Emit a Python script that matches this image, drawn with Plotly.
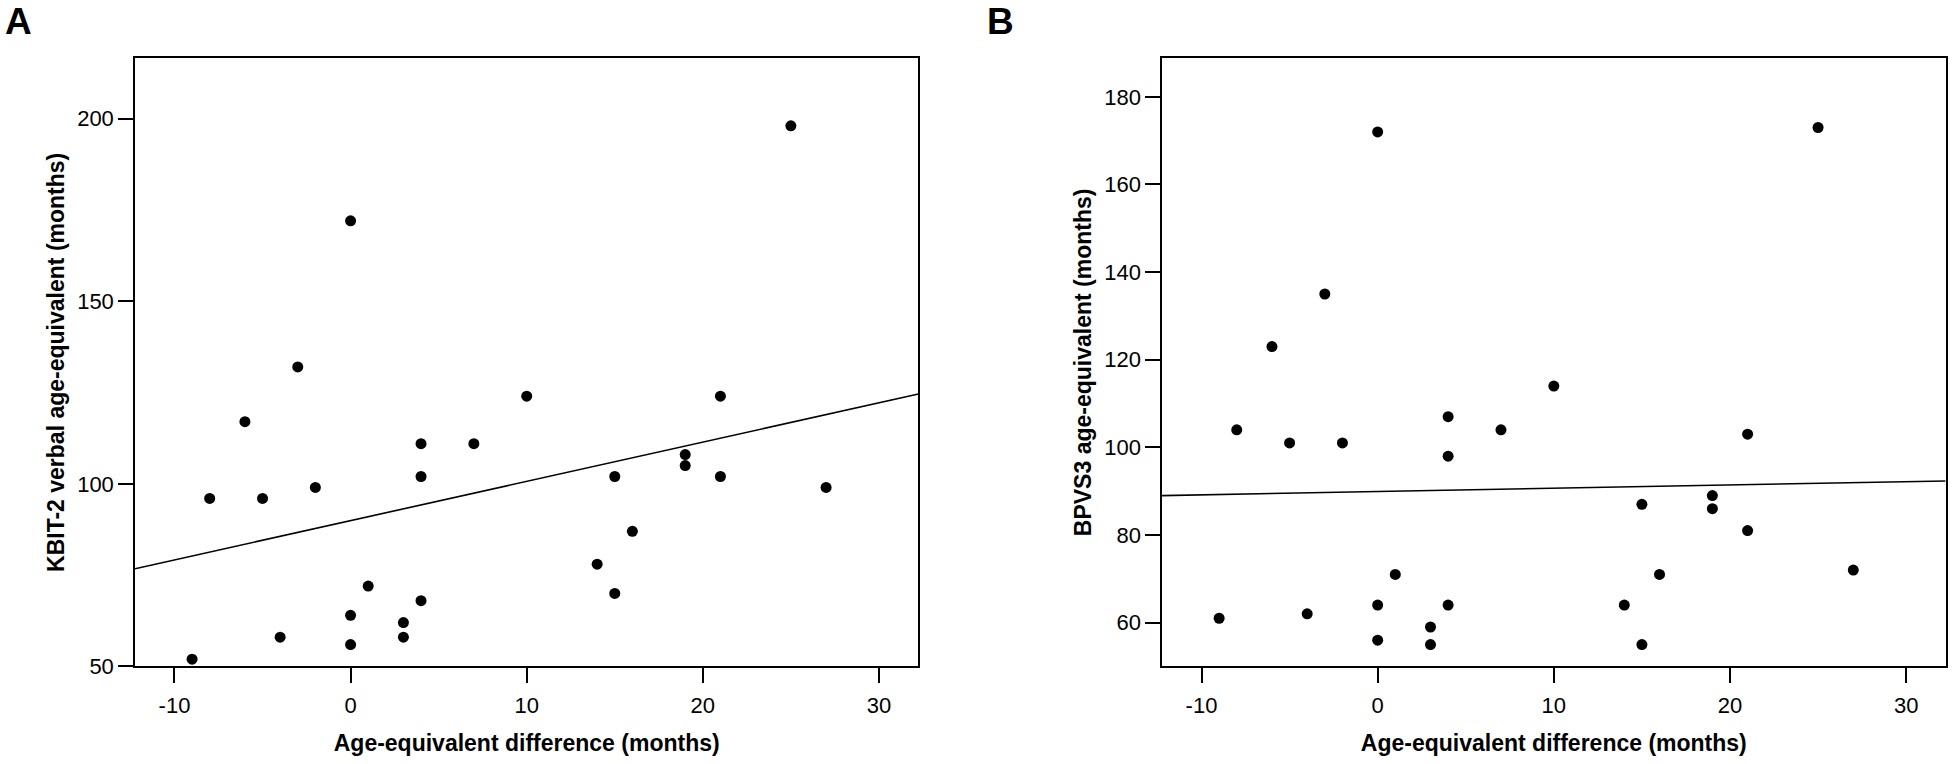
import plotly.graph_objects as go
import numpy as np

# age-equivalent difference (months), same participants in both panels
age_diff = [-9, -8, -6, -5, -4, -3, -2, 0, 0, 0, 1, 3, 3, 4, 4, 4, 7, 10,
            14, 15, 15, 16, 19, 19, 21, 21, 25, 27]

# panel A: KBIT-2 verbal age-equivalent (months)
kbit_verbal = [52, 96, 117, 96, 58, 132, 99, 64, 56, 172, 72, 62, 58, 68, 102, 111, 111, 124,
               78, 70, 102, 87, 108, 105, 124, 102, 198, 99]

# panel B: BPVS3 age-equivalent (months)
bpvs3 = [61, 104, 123, 101, 62, 135, 101, 64, 56, 172, 71, 59, 55, 64, 98, 107, 104, 114,
         64, 87, 55, 71, 89, 86, 103, 81, 173, 72]

x_ticks = [-10, 0, 10, 20, 30]
x_ticktext = ['-10', '0', '10', '20', '30']
a_ticks = [50, 100, 150, 200]
b_ticks = [60, 80, 100, 120, 140, 160, 180]

x_range = [-12.24, 32.24]
a_range = [50, 216.5]
b_range = [50, 188.8]

font_family = "Arial, Liberation Sans, sans-serif"


def fit_line(x, y, xr):
    slope, icept = np.polyfit(x, y, 1)
    xs = np.array(xr)
    return xs, slope * xs + icept


fig = go.Figure()

for x, y, xa, ya in [(age_diff, kbit_verbal, 'x', 'y'), (age_diff, bpvs3, 'x2', 'y2')]:
    lx, ly = fit_line(x, y, x_range)
    fig.add_trace(go.Scatter(x=lx, y=ly, mode='lines', xaxis=xa, yaxis=ya,
                             line=dict(color='black', width=1.6), showlegend=False))
    fig.add_trace(go.Scatter(x=x, y=y, mode='markers', xaxis=xa, yaxis=ya,
                             marker=dict(color='black', size=11), showlegend=False))

axis_common = dict(showgrid=False, zeroline=False, showline=True, mirror=True,
                   linecolor='black', linewidth=1.5, ticks='outside', ticklen=15,
                   tickwidth=1.5, tickcolor='black',
                   tickfont=dict(family=font_family, size=22, color='black'))
title_font = dict(family=font_family, size=23, color='black', weight='bold')

x_title = 'Age-equivalent difference (months)'

fig.update_layout(
    width=1954, height=764,
    margin=dict(l=0, r=0, t=0, b=0),
    paper_bgcolor='white', plot_bgcolor='white',
    xaxis=dict(domain=[0.0691, 0.470], range=x_range, tickvals=x_ticks, ticktext=x_ticktext,
               anchor='y', ticklabelstandoff=3,
               title=dict(text=x_title, font=title_font, standoff=18),
               **axis_common),
    yaxis=dict(domain=[0.1126, 0.9224], range=a_range, tickvals=a_ticks, anchor='x',
               title=dict(text='KBIT-2 verbal age-equivalent (months)', font=title_font, standoff=6),
               **axis_common),
    xaxis2=dict(domain=[0.5947, 0.9957], range=x_range, tickvals=x_ticks, ticktext=x_ticktext,
                anchor='y2', ticklabelstandoff=3,
                title=dict(text=x_title, font=title_font, standoff=18),
                **axis_common),
    yaxis2=dict(domain=[0.1126, 0.9224], range=b_range, tickvals=b_ticks, anchor='x2',
                title=dict(text='BPVS3 age-equivalent (months)', font=title_font, standoff=6),
                **axis_common),
    annotations=[
        dict(text='<b>A</b>', x=0.002, y=1.0, xref='paper', yref='paper',
             xanchor='left', yanchor='top', showarrow=False, borderpad=0,
             font=dict(family=font_family, size=37, color='black')),
        dict(text='<b>B</b>', x=0.5045, y=1.0, xref='paper', yref='paper',
             xanchor='left', yanchor='top', showarrow=False, borderpad=0,
             font=dict(family=font_family, size=37, color='black')),
    ],
)

fig.write_html("out.html", config={'displayModeBar': False},
               post_script="document.body.style.margin='0px';")
